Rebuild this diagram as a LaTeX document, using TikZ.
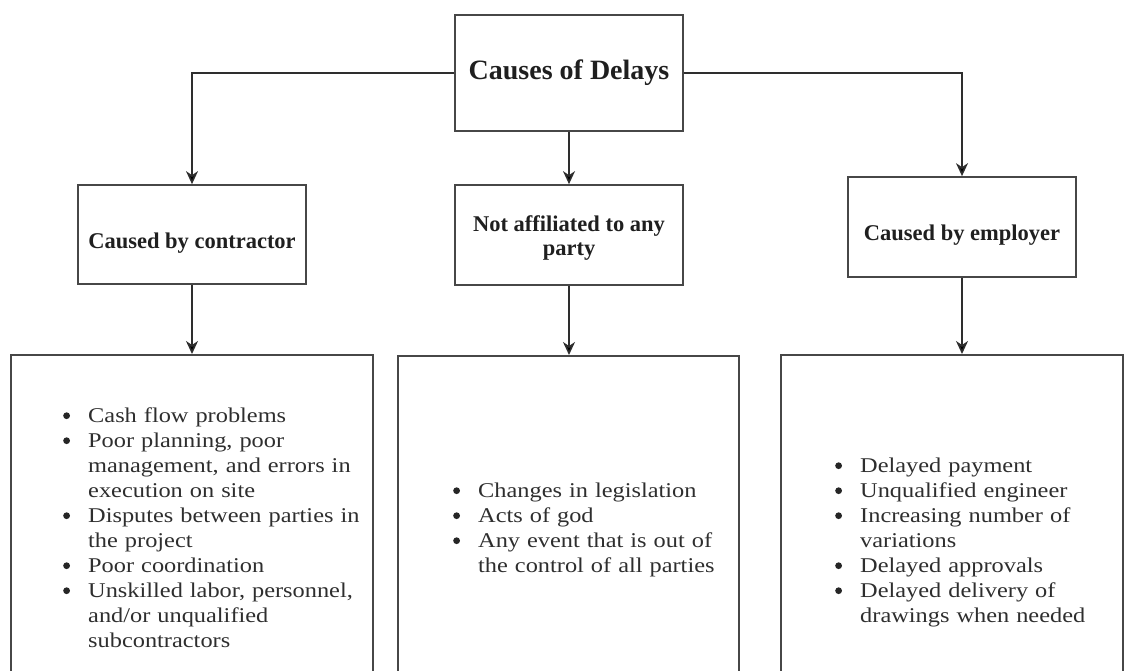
\documentclass[tikz,border=0pt]{standalone}
\usepackage{fontspec}
\setmainfont{Liberation Serif}[FakeStretch=1.16]
\newfontfamily\headfont{Liberation Serif}
\usetikzlibrary{arrows.meta,positioning}
\newcommand{\bitem}[1]{\par\noindent\hangindent=25pt\hangafter=1\makebox[25pt][l]{\tikz[baseline=-6.5pt]\fill[black!85] (0,0) circle (3.4pt);}#1}
\tikzset{
  box/.style={draw=black!72,line width=1.7pt,minimum width=228pt,inner sep=0pt},
  head/.style={font=\headfont\bfseries\fontsize{22.5}{24}\selectfont,text=black!88,align=center},
  toptitle/.style={font=\headfont\bfseries\fontsize{28}{30}\selectfont,text=black!88},
  list/.style={anchor=north west,inner sep=0pt,text width=300pt,align=left,font=\fontsize{21}{25}\selectfont,text=black!82},
  arr/.style={-{Stealth[length=13pt,width=12pt,inset=4pt]},line width=1.6pt,draw=black!82},
}
\begin{document}
\begin{tikzpicture}[x=1pt,y=-1pt]
\useasboundingbox (0,0) rectangle (1129,671);
\clip (0,0) rectangle (1129,671);
% top box
\node[box,minimum height=116pt,toptitle] (top) at (569,73) {Causes of Delays};
% second row
\node[box,minimum height=99pt,label={[head,yshift=-8.5pt]center:Caused by contractor}] (lmid) at (192,234.5) {};
\node[box,minimum height=100pt,label={[head,yshift=-3pt]center:Not affiliated to any\\party}] (mmid) at (569,235) {};
\node[box,minimum height=100pt,label={[head,yshift=-8pt]center:Caused by employer}] (rmid) at (962,227) {};
% bottom row (runs off the page)
\node[box,minimum width=362pt,minimum height=340pt,anchor=north] (lbot) at (192,354) {};
\node[box,minimum width=341pt,minimum height=340pt,anchor=north] (mbot) at (568.5,355) {};
\node[box,minimum width=342pt,minimum height=340pt,anchor=north] (rbot) at (952,354) {};
\node[list] (llist) at (63,397) {%
  \bitem{Cash flow problems}%
  \bitem{Poor planning, poor\newline management, and errors in\newline execution on site}%
  \bitem{Disputes between parties in\newline the project}%
  \bitem{Poor coordination}%
  \bitem{Unskilled labor, personnel,\newline and/or unqualified\newline subcontractors}\par};
\node[list] (mlist) at (453,472) {%
  \bitem{Changes in legislation}%
  \bitem{Acts of god}%
  \bitem{Any event that is out of\newline the control of all parties}\par};
\node[list] (rlist) at (835,447) {%
  \bitem{Delayed payment}%
  \bitem{Unqualified engineer}%
  \bitem{Increasing number of\newline variations}%
  \bitem{Delayed approvals}%
  \bitem{Delayed delivery of\newline drawings when needed}\par};
% connectors
\draw[arr] (top.west) -| (lmid.north);
\draw[arr] (top.east) -| (rmid.north);
\draw[arr] (top.south) -- (mmid.north);
\draw[arr] (lmid.south) -- (lbot.north);
\draw[arr] (mmid.south) -- (mmid.south |- mbot.north);
\draw[arr] (rmid.south) -- (rmid.south |- rbot.north);
\end{tikzpicture}
\end{document}
